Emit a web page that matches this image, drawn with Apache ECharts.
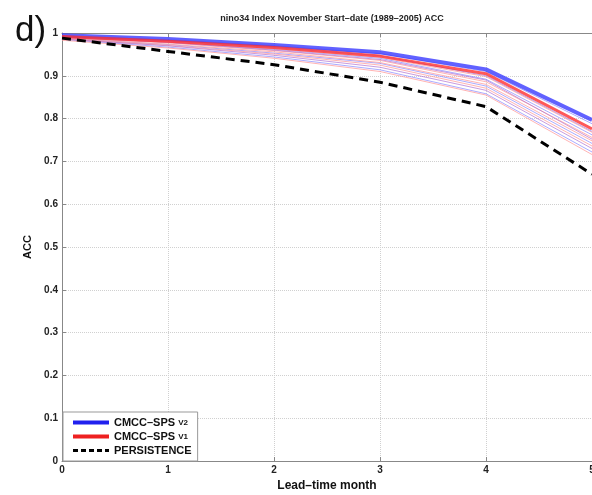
<!DOCTYPE html>
<html><head><meta charset="utf-8">
<script src="https://cdn.jsdelivr.net/npm/echarts@6/dist/echarts.min.js"></script>
<style>html,body{margin:0;padding:0;background:#fff}#c{width:592px;height:495px}</style>
</head><body><div id="c"></div>
<script>
const leadMonths = [0, 1, 2, 3, 4, 5];
const yTicks = [0, 0.1, 0.2, 0.3, 0.4, 0.5, 0.6, 0.7, 0.8, 0.9, 1];
const spsV2 = [0.995, 0.986, 0.972, 0.955, 0.915, 0.797];
const spsV1 = [0.992, 0.981, 0.966, 0.946, 0.905, 0.776];
const persistence = [0.988, 0.957, 0.926, 0.885, 0.828, 0.670];
const v2Members = [
  [0.994, 0.984, 0.970, 0.952, 0.910, 0.788],
  [0.991, 0.979, 0.962, 0.941, 0.892, 0.762],
  [0.988, 0.973, 0.953, 0.929, 0.876, 0.742],
  [0.985, 0.967, 0.944, 0.914, 0.858, 0.722],
  [0.992, 0.981, 0.966, 0.947, 0.900, 0.770]
];
const v1Members = [
  [0.989, 0.977, 0.959, 0.936, 0.886, 0.756],
  [0.986, 0.971, 0.951, 0.925, 0.871, 0.736],
  [0.983, 0.965, 0.941, 0.910, 0.855, 0.716],
  [0.990, 0.979, 0.963, 0.943, 0.898, 0.768],
  [0.987, 0.974, 0.956, 0.931, 0.880, 0.748]
];
const mixMembers = [
  [0.990, 0.978, 0.960, 0.938, 0.890, 0.752],
  [0.986, 0.970, 0.948, 0.920, 0.866, 0.730]
];

const pair = a => a.map((v, i) => [leadMonths[i], v]);
const FONT = 'Liberation Sans, Arial, sans-serif';
const series = [];
v2Members.forEach((m, i) => series.push({type:'line', name:'v2m'+i, data:pair(m), symbol:'none', silent:true,
  lineStyle:{color:'#8f8fff', width:1, opacity:0.75}, z:2}));
v1Members.forEach((m, i) => series.push({type:'line', name:'v1m'+i, data:pair(m), symbol:'none', silent:true,
  lineStyle:{color:'#ff9a9a', width:1, opacity:0.75}, z:2}));
mixMembers.forEach((m, i) => series.push({type:'line', name:'mm'+i, data:pair(m), symbol:'none', silent:true,
  lineStyle:{color:'#b070d0', width:1, opacity:0.7}, z:2}));
series.push({type:'line', name:'CMCC–SPS V2', data:pair(spsV2), symbol:'none',
  lineStyle:{color:'#3a3aff', width:4, opacity:0.8}, itemStyle:{color:'#2020ee'}, z:4});
series.push({type:'line', name:'CMCC–SPS V1', data:pair(spsV1), symbol:'none',
  lineStyle:{color:'#ff3030', width:3, opacity:0.8}, itemStyle:{color:'#ee2020'}, z:5});
series.push({type:'line', name:'PERSISTENCE', data:pair(persistence), symbol:'none',
  lineStyle:{color:'#000', width:3, type:[9,6]}, itemStyle:{color:'#000'}, z:6});

const rich = {b:{fontFamily:FONT, fontSize:11, fontWeight:'bold', color:'#111'},
              s:{fontFamily:FONT, fontSize:8, fontWeight:'bold', color:'#111'}};
const chart = echarts.init(document.getElementById('c'), null, {renderer:'canvas'});
chart.setOption({
  animation:false,
  backgroundColor:'#fff',
  title:[
    {text:'nino34 Index November Start–date (1989–2005) ACC', left:327, top:9, textAlign:'center',
     textStyle:{fontFamily:FONT, fontSize:9, fontWeight:'bold', color:'#222'}},
    {text:'d)', left:10, top:9, textStyle:{fontFamily:FONT, fontSize:35, fontWeight:'normal', color:'#111'}}
  ],
  grid:{left:62, right:0, top:33, bottom:34, containLabel:false, outerBoundsMode:'none'},
  legend:{
    data:[
      {name:'CMCC–SPS V2', itemStyle:{opacity:0}, lineStyle:{width:4, color:'#2020ee', opacity:1}},
      {name:'CMCC–SPS V1', itemStyle:{opacity:0}, lineStyle:{width:4, color:'#ee2020', opacity:1}},
      {name:'PERSISTENCE', itemStyle:{opacity:0}, lineStyle:{width:3, color:'#000', type:[5,3]}}
    ],
    orient:'vertical', left:63, bottom:34, padding:[5,6,5,8], itemGap:3,
    itemWidth:36, itemHeight:12, backgroundColor:'#fff', borderColor:'#999', borderWidth:1,
    formatter: n => {
      if (n === 'PERSISTENCE') return '{b|PERSISTENCE}';
      const p = n.split(' ');
      return '{b|' + p[0] + ' }{s|' + p[1] + '}';
    },
    textStyle:{fontFamily:FONT, fontSize:11, fontWeight:'bold', color:'#111', rich: rich}
  },
  xAxis:[{
    type:'value', min:0, max:5, interval:1, position:'bottom',
    name:'Lead–time month', nameLocation:'middle', nameGap:17,
    nameTextStyle:{fontFamily:FONT, fontSize:12, fontWeight:'bold', color:'#111'},
    axisLine:{onZero:false, lineStyle:{color:'#888', width:1}},
    axisTick:{inside:true, length:4, lineStyle:{color:'#888'}},
    axisLabel:{fontFamily:FONT, fontSize:10, fontWeight:'bold', color:'#222', margin:4},
    splitLine:{show:true, lineStyle:{type:'dotted', color:'#d0d0d0', width:1}}
  },{
    type:'value', min:0, max:5, interval:1, position:'top',
    axisLine:{show:true, onZero:false, lineStyle:{color:'#888', width:1}},
    axisTick:{show:true, inside:true, length:4, lineStyle:{color:'#888'}},
    axisLabel:{show:false}, splitLine:{show:false}
  }],
  yAxis:{
    type:'value', min:0, max:1, interval:0.1,
    name:'ACC', nameLocation:'middle', nameGap:29, nameRotate:90,
    nameTextStyle:{fontFamily:FONT, fontSize:11, fontWeight:'bold', color:'#111'},
    axisLine:{show:true, onZero:false, lineStyle:{color:'#888', width:1}},
    axisTick:{show:true, inside:true, length:4, lineStyle:{color:'#888'}},
    axisLabel:{fontFamily:FONT, fontSize:10, fontWeight:'bold', color:'#222', margin:4,
      formatter: v => { const t = yTicks.find(x => Math.abs(x - v) < 1e-6); return t === undefined ? '' : String(t); }},
    splitLine:{show:true, lineStyle:{type:'dotted', color:'#d0d0d0', width:1}}
  },
  series: series
});
</script></body></html>
